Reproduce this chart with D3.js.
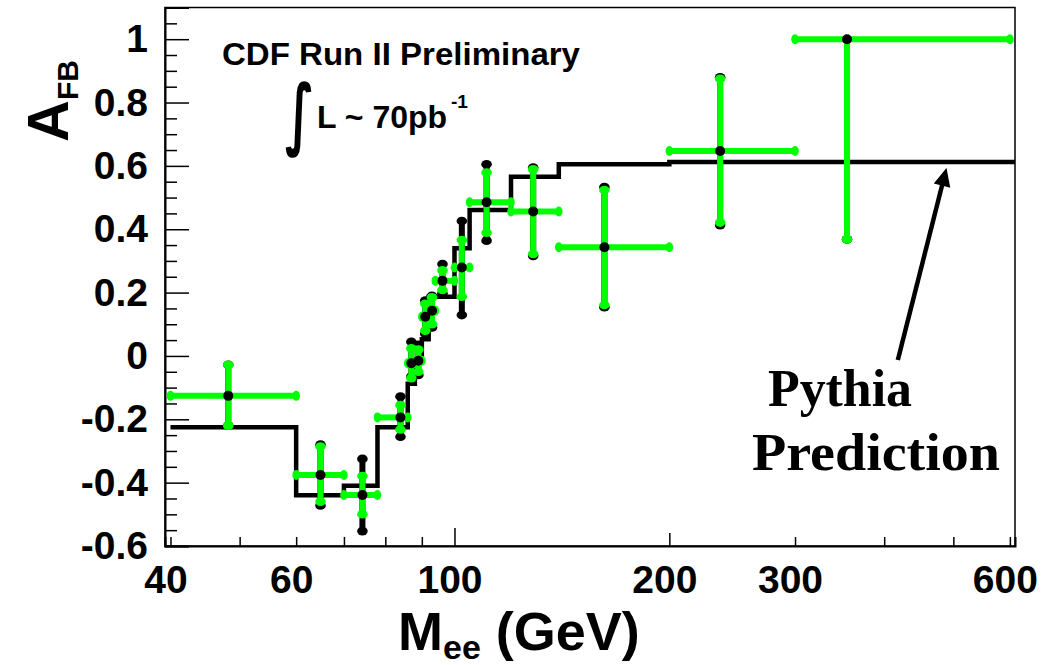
<!DOCTYPE html>
<html>
<head>
<meta charset="utf-8">
<script src="https://cdn.jsdelivr.net/npm/d3@7/dist/d3.min.js"></script>
<style>
  body { margin: 0; background: #fff; }
</style>
</head>
<body>
<div id="chart"></div>
<script>
// CDF Run II A_FB vs M_ee, data points (bin edges, mean mass, value, errors)
var binLow   = [40, 60, 70, 78, 86, 88, 90, 92, 94, 100, 105, 120, 140, 200, 300];
var binHigh  = [60, 70, 78, 86, 88, 90, 92, 94, 100, 105, 120, 140, 200, 300, 600];
var massMean = [48.2, 64.9, 74.3, 84, 87, 89, 91, 93, 96.2, 102.4, 110.9, 128.9, 162.2, 235.6, 354.8];
var afb      = [-0.126, -0.376, -0.439, -0.194, -0.023, -0.015, 0.124, 0.143, 0.237, 0.279, 0.485, 0.456, 0.343, 0.647, 1.0];
// green (inner) error bar ends
var statHi   = [-0.028, -0.286, -0.379, -0.155, 0.024, 0.02, 0.165, 0.185, 0.27, 0.366, 0.579, 0.589, 0.524, 0.875, 1.0];
var statLo   = [-0.22, -0.46, -0.5, -0.232, -0.07, -0.05, 0.08, 0.1, 0.208, 0.187, 0.389, 0.322, 0.161, 0.421, 0.368];
// black (outer) error bar ends
var totHi    = [-0.028, -0.28, -0.325, -0.128, 0.045, 0.035, 0.175, 0.19, 0.29, 0.426, 0.605, 0.595, 0.533, 0.88, 1.0];
var totLo    = [-0.22, -0.472, -0.553, -0.255, -0.065, -0.06, 0.07, 0.09, 0.198, 0.129, 0.364, 0.316, 0.154, 0.413, 0.368];

// Pythia prediction histogram
var pythiaEdges = [40, 60, 70, 78, 86, 88, 90, 92, 94, 100, 105, 120, 140, 200, 610];
var pythiaAfb   = [-0.225, -0.44, -0.41, -0.225, -0.088, -0.018, 0.053, 0.187, 0.187, 0.34, 0.461, 0.566, 0.605, 0.612];

var xTicks  = [40, 50, 60, 70, 80, 90, 100, 200, 300, 400, 500, 600];
var xLabels = [40, 60, 100, 200, 300, 600];
var yMajor  = [-0.6, -0.4, -0.2, 0, 0.2, 0.4, 0.6, 0.8, 1];
var yMinor  = [-0.55, -0.5, -0.45, -0.35, -0.3, -0.25, -0.15, -0.1, -0.05, 0.05, 0.1, 0.15,
               0.25, 0.3, 0.35, 0.45, 0.5, 0.55, 0.65, 0.7, 0.75, 0.85, 0.9, 0.95, 1.05];

var width = 1058, height = 665;
var plotL = 165, plotR = 1015, plotT = 7.5, plotB = 546;
var sans = "'Liberation Sans', Arial, sans-serif",
    serif = "'Liberation Serif', 'Times New Roman', serif";

var svg = d3.select("#chart").append("svg")
    .attr("width", width)
    .attr("height", height)
    .style("font-family", sans)
    .style("font-weight", "bold");

var x = d3.scaleLog().domain([39.3, 610]).range([plotL, plotR]);
var y = d3.scaleLinear().domain([-0.6, 1.1]).range([plotB, plotT]);

var green = "#00ff00";

// frame
svg.append("rect")
  .attr("x", plotL).attr("y", plotT)
  .attr("width", plotR - plotL).attr("height", plotB - plotT)
  .attr("fill", "none").attr("stroke", "#000").attr("stroke-width", 1.5);

// y axis
var yAxis = svg.append("g")
  .attr("transform", "translate(" + plotL + ",0)")
  .call(d3.axisLeft(y).tickValues(yMajor).tickSize(-24).tickPadding(17)
    .tickFormat(function(d) { return String(+d.toFixed(1)); }));
yAxis.select(".domain").attr("stroke-width", 2);
yAxis.selectAll(".tick line").attr("stroke-width", 1.5);
yAxis.selectAll("text").attr("fill", "#000")
  .style("font-size", "39px").style("font-family", sans).style("font-weight", "bold");

svg.append("g")
  .attr("transform", "translate(" + plotL + ",0)")
  .call(d3.axisLeft(y).tickValues(yMinor).tickSize(-12).tickFormat(""))
  .call(function(g) { g.select(".domain").remove(); })
  .selectAll(".tick line").attr("stroke-width", 1.5);

// x axis
var xAxis = svg.append("g")
  .attr("transform", "translate(0," + plotB + ")")
  .call(d3.axisBottom(x).tickValues(xTicks).tickSize(-9).tickPadding(19)
    .tickFormat(function(d) { return xLabels.indexOf(d) >= 0 ? d : ""; }));
xAxis.select(".domain").attr("stroke-width", 2);
xAxis.selectAll(".tick line").attr("stroke-width", 1.5)
  .attr("y2", function(d) { return d === 100 ? -18 : (d === 200 ? -13 : -9); });
xAxis.selectAll("text").attr("fill", "#000").attr("dx", -5)
  .style("font-size", "39px").style("font-family", sans).style("font-weight", "bold");

// Pythia step line
var steps = [];
pythiaAfb.forEach(function(v, i) {
  steps.push([pythiaEdges[i], v]);
  steps.push([pythiaEdges[i + 1], v]);
});
svg.append("path")
  .datum(steps)
  .attr("d", d3.line().x(function(d) { return x(d[0]); }).y(function(d) { return y(d[1]); }))
  .attr("fill", "none").attr("stroke", "#000").attr("stroke-width", 4.5);

var idx = d3.range(afb.length);

// black (outer) vertical error bars
var outer = svg.append("g");
outer.selectAll("line").data(idx).enter().append("line")
  .attr("x1", function(i) { return x(massMean[i]); })
  .attr("x2", function(i) { return x(massMean[i]); })
  .attr("y1", function(i) { return y(totHi[i]); })
  .attr("y2", function(i) { return y(totLo[i]); })
  .attr("stroke", "#000").attr("stroke-width", 6);
outer.selectAll(".capHi").data(idx.filter(function(i) { return totHi[i] > afb[i]; })).enter().append("ellipse")
  .attr("cx", function(i) { return x(massMean[i]); })
  .attr("cy", function(i) { return y(totHi[i]); })
  .attr("rx", 5.3).attr("ry", 4.3).attr("fill", "#000");
outer.selectAll(".capLo").data(idx).enter().append("ellipse")
  .attr("cx", function(i) { return x(massMean[i]); })
  .attr("cy", function(i) { return y(totLo[i]); })
  .attr("rx", 5.3).attr("ry", 4.3).attr("fill", "#000");

// green (inner) error bars
var inner = svg.append("g");
inner.selectAll(".h").data(idx).enter().append("line")
  .attr("x1", function(i) { return x(binLow[i]); })
  .attr("x2", function(i) { return x(binHigh[i]); })
  .attr("y1", function(i) { return y(afb[i]); })
  .attr("y2", function(i) { return y(afb[i]); })
  .attr("stroke", green).attr("stroke-width", 6);
inner.selectAll(".v").data(idx).enter().append("line")
  .attr("x1", function(i) { return x(massMean[i]); })
  .attr("x2", function(i) { return x(massMean[i]); })
  .attr("y1", function(i) { return y(statHi[i]); })
  .attr("y2", function(i) { return y(statLo[i]); })
  .attr("stroke", green).attr("stroke-width", 6);
idx.forEach(function(i) {
  [binLow[i], binHigh[i]].forEach(function(m) {
    inner.append("ellipse").attr("cx", x(m)).attr("cy", y(afb[i]))
      .attr("rx", 3.8).attr("ry", 5).attr("fill", green);
  });
  [statHi[i], statLo[i]].forEach(function(v) {
    if (v === afb[i]) return;
    inner.append("ellipse").attr("cx", x(massMean[i])).attr("cy", y(v))
      .attr("rx", 5.3).attr("ry", 4.3).attr("fill", green);
  });
});

// markers
svg.append("g").selectAll("circle").data(idx).enter().append("circle")
  .attr("cx", function(i) { return x(massMean[i]); })
  .attr("cy", function(i) { return y(afb[i]); })
  .attr("r", 5).attr("fill", "#000");

// arrow to the Pythia curve
var arrowTail = [418, -0.013], arrowTip = [489, 0.593];
var tx = x(arrowTip[0]), ty = y(arrowTip[1]), sx = x(arrowTail[0]), sy = y(arrowTail[1]);
var ang = Math.atan2(ty - sy, tx - sx), hl = 18, hw = 8.5;
svg.append("line")
  .attr("x1", sx).attr("y1", sy)
  .attr("x2", tx - Math.cos(ang) * hl * 0.8).attr("y2", ty - Math.sin(ang) * hl * 0.8)
  .attr("stroke", "#000").attr("stroke-width", 4.5);
var bx = tx - Math.cos(ang) * hl, by = ty - Math.sin(ang) * hl;
svg.append("path")
  .attr("d", "M" + tx + "," + ty +
    "L" + (bx + Math.sin(ang) * hw) + "," + (by - Math.cos(ang) * hw) +
    "L" + (bx - Math.sin(ang) * hw) + "," + (by + Math.cos(ang) * hw) + "Z")
  .attr("fill", "#000");

// texts
svg.append("text").attr("x", 222).attr("y", 65).style("font-size", "32px")
  .attr("textLength", 358).attr("lengthAdjust", "spacingAndGlyphs")
  .text("CDF Run II Preliminary");
svg.append("text").attr("transform", "translate(285,140) scale(0.8,1.3)")
  .style("font-size", "60px").style("font-weight", "bold")
  .style("font-family", "'DejaVu Sans', sans-serif")
  .text("\u222B");
svg.append("text").attr("x", 317).attr("y", 128).style("font-size", "32px")
  .text("L ~ 70pb");
svg.append("text").attr("x", 451).attr("y", 108).style("font-size", "19px")
  .text("-1");

svg.append("text").attr("x", 768).attr("y", 406).style("font-size", "52px")
  .style("font-family", serif)
  .attr("textLength", 144).attr("lengthAdjust", "spacingAndGlyphs")
  .text("Pythia");
svg.append("text").attr("x", 752).attr("y", 470).style("font-size", "52px")
  .style("font-family", serif)
  .attr("textLength", 248).attr("lengthAdjust", "spacingAndGlyphs")
  .text("Prediction");

// axis titles
var xt = svg.append("text").attr("x", 398).attr("y", 650).style("font-size", "54px");
xt.append("tspan").text("M");
xt.append("tspan").style("font-size", "34px").attr("dy", 9).text("ee");
xt.append("tspan").attr("dy", -9).text(" (GeV)");

var yt = svg.append("text").attr("transform", "translate(68,142) rotate(-90)").style("font-size", "58px");
yt.append("tspan").text("A");
yt.append("tspan").style("font-size", "30px").attr("dy", 10).text("FB");
</script>
</body>
</html>
